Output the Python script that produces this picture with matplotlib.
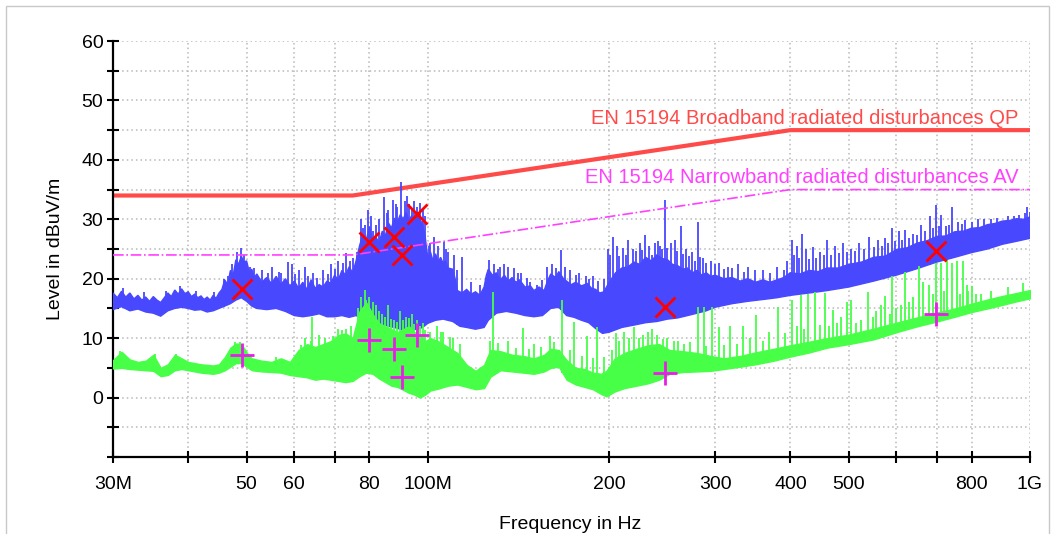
import matplotlib
matplotlib.use('Agg')
import matplotlib.pyplot as plt
from matplotlib.patches import Rectangle
import numpy as np

plt.rcParams['font.family'] = ['Liberation Sans', 'DejaVu Sans']

# ---- peak (blue) trace: upper and lower edges, MHz / dBuV/m ----
blue_hi_f = [30, 30.5, 31, 31.5, 32, 32.5, 33, 33.5, 34, 34.5, 35, 35.5, 36, 36.5, 37, 37.5, 38, 38.5, 39, 39.5,
             40, 40.5, 41, 41.5, 42, 42.5, 43, 43.5, 44, 44.5, 45, 45.5, 46, 46.5, 47, 47.5, 48, 48.5, 49, 49.5,
             50, 50.5, 51, 51.5, 52, 53, 54, 55, 56, 57, 58, 59, 60, 61, 62, 63, 64, 65, 66, 67,
             68, 69, 70, 71, 72, 73, 74, 75, 76, 77, 78, 79, 80, 81, 82, 83, 84, 85, 86, 87,
             88, 89, 90, 91, 92, 93, 94, 95, 96, 97, 98, 99, 100, 101, 102, 103, 104, 105, 106, 107,
             108, 110, 111, 112, 114, 116, 118, 120, 122, 124, 125, 126, 128, 130, 132, 134, 136, 138, 140, 142,
             145, 148, 150, 153, 156, 158, 160, 163, 165, 168, 170, 173, 176, 180, 184, 187, 190, 193, 196, 198,
             200, 205, 210, 215, 220, 225, 230, 235, 240, 245, 250, 255, 260, 265, 270, 275, 280, 285, 290, 295,
             300, 310, 320, 330, 340, 350, 360, 370, 380, 390, 400, 415, 430, 445, 460, 480, 500, 525, 550, 575,
             600, 625, 650, 675, 700, 725, 750, 775, 800, 825, 850, 875, 900, 925, 950, 975, 1000]
blue_hi = [17.6, 16.8, 17.9, 16.9, 17.6, 16.6, 17.2, 16.4, 16.9, 16.2, 17.0, 16.4, 16.0, 16.8, 17.6, 17.0, 18.1, 17.4, 18.3, 17.5,
           17.8, 17.0, 17.4, 16.8, 17.1, 16.5, 16.9, 16.4, 17.2, 16.7, 17.6, 18.2, 19.8, 19.0, 21.4, 20.6, 23.2, 22.4, 23.8, 22.8,
           23.0, 21.2, 21.6, 20.2, 20.8, 19.4, 20.2, 19.2, 20.4, 19.0, 20.0, 18.8, 19.6, 18.4, 19.4, 18.2, 19.8, 18.4, 19.0, 18.6,
           19.6, 19.2, 20.6, 19.8, 21.4, 20.6, 22.0, 21.0, 23.0, 25.5, 27.5, 26.5, 28.8, 26.2, 27.0, 26.0, 28.0, 27.2, 29.4, 28.5,
           30.2, 29.5, 30.8, 30.0, 31.2, 29.8, 30.6, 29.6, 31.0, 30.0, 29.2, 27.0, 23.5, 24.5, 23.0, 24.2, 22.8, 23.6, 22.6, 23.0,
           21.8, 21.6, 20.0, 18.0, 17.6, 18.2, 17.4, 17.8, 17.2, 18.6, 20.5, 21.6, 20.6, 21.0, 19.8, 20.6, 19.6, 20.2, 19.4, 19.8,
           18.6, 18.8, 18.0, 18.6, 18.0, 19.6, 20.8, 20.2, 21.2, 20.0, 19.6, 19.0, 19.4, 18.8, 19.2, 18.4, 18.2, 17.6, 17.8, 18.6,
           19.4, 21.0, 21.8, 22.0, 22.8, 22.4, 23.6, 23.0, 24.0, 23.4, 23.2, 22.4, 22.2, 21.6, 21.8, 21.0, 21.4, 20.6, 21.0, 20.4,
           20.6, 20.0, 20.2, 19.6, 20.0, 19.4, 19.8, 19.4, 19.8, 20.2, 21.0, 20.8, 21.4, 21.2, 21.8, 21.8, 22.4, 22.8, 23.6, 23.8,
           24.9, 25.2, 26.0, 26.4, 27.1, 27.2, 27.9, 28.0, 28.5, 28.6, 29.1, 29.3, 29.7, 29.8, 30.1, 30.0, 30.4]
blue_lo_f = [30, 31, 32, 33, 34, 35, 36, 37, 38, 39, 40, 41, 42, 43, 44, 45, 46, 47, 48, 49,
             50, 51, 52, 54, 56, 58, 60, 62, 64, 66, 68, 70, 72, 74, 76, 78, 80, 82, 84, 86,
             88, 90, 92, 94, 96, 98, 100, 103, 106, 110, 113, 116, 120, 124, 126, 130, 135, 140, 145, 150,
             155, 160, 165, 170, 175, 180, 185, 190, 195, 200, 210, 220, 230, 240, 250, 260, 270, 280, 290, 300,
             320, 340, 360, 380, 400, 430, 460, 500, 550, 600, 650, 700, 750, 800, 850, 900, 950, 1000]
blue_lo = [14.8, 15.3, 14.6, 14.9, 14.4, 14.2, 13.7, 14.6, 15.0, 15.2, 15.0, 14.7, 14.8, 14.4, 14.6, 15.0, 15.4, 15.8, 16.4, 16.8,
           16.2, 15.4, 15.0, 14.8, 15.0, 14.5, 13.8, 13.6, 13.8, 14.1, 13.6, 13.6, 13.8, 13.5, 13.8, 13.2, 12.8, 12.6, 12.4, 12.0,
           11.8, 11.5, 11.4, 11.4, 11.5, 11.8, 12.5, 13.0, 13.2, 12.8, 12.0, 11.8, 11.5, 11.8, 13.0, 14.2, 14.5, 14.2, 13.8, 13.6,
           13.8, 15.0, 15.2, 13.8, 13.5, 13.0, 12.6, 11.6, 10.8, 11.0, 11.8, 12.2, 12.6, 12.8, 13.2, 13.4, 13.8, 14.2, 14.6, 15.2,
           15.8, 16.2, 16.5, 16.8, 17.2, 17.6, 18.0, 18.6, 19.6, 20.6, 21.7, 22.8, 23.6, 24.4, 25.0, 25.8, 26.3, 26.8]
blue_spike_f = [31.2, 33.8, 36.8, 38.8, 41.2, 44.2, 45.8, 46.5, 47.2, 48.2, 49.0, 49.6, 50.6, 51.5, 53, 54.2, 55, 56.5, 57, 58.5,
                59.5, 60.2, 61, 62.5, 63.2, 64.5, 65.5, 67, 68.2, 69, 70.2, 71, 72.2, 73, 74.2, 75, 76.2, 77.5, 78, 78.5,
                79.5, 80.5, 81, 82, 83, 84.5, 85.5, 86, 87.5, 88.5, 89, 90.3, 91.5, 92.2, 93, 94, 95, 96, 97, 98,
                99, 100.5, 101, 102.5, 104, 106.5, 107, 108, 110.5, 112, 114, 118, 122, 126.5, 129, 131, 132, 134, 136, 139,
                141, 143, 146, 148, 152, 155, 158, 161, 163, 166.5, 169, 172, 176, 178, 183, 185, 188, 192, 196, 199,
                201, 203, 206, 208, 211, 213, 215, 219, 222, 225, 227, 229, 233, 236, 238, 241, 243, 245, 247.8, 250,
                253, 257, 259, 263.5, 265, 268, 271, 275, 278, 280.6, 283, 286, 290, 295, 300, 305, 310, 315, 320, 328,
                335, 340, 350, 360, 370, 380, 390, 395, 402, 406, 410, 414, 418, 425, 430, 436, 442, 448, 455, 460,
                468, 475, 482, 490, 497, 505, 512, 520, 530, 540, 550, 560, 567, 575, 582, 590, 597, 605, 612, 620,
                630, 640, 650, 660, 670, 681, 690, 698, 706, 712, 725, 735, 741, 760, 770, 780, 800, 820, 840, 860,
                880, 920, 940, 960, 980, 990, 1000]
blue_spike_top = [18.4, 17.8, 18.0, 18.8, 18.0, 17.8, 20.0, 20.5, 22.5, 24.5, 25.2, 24.0, 22.0, 21.8, 21.5, 21.0, 22.0, 21.2, 21.0, 22.8,
                  22.5, 20.8, 21.5, 22.0, 20.5, 21.0, 20.2, 21.5, 20.8, 22.5, 21.6, 23.0, 22.6, 24.3, 23.0, 23.5, 24.5, 30.0, 28.6, 29.0,
                  31.6, 30.5, 28.0, 29.0, 30.0, 33.8, 31.0, 31.5, 33.3, 32.6, 32.0, 36.2, 33.0, 34.0, 32.5, 31.5, 33.0, 32.0, 32.7, 31.6,
                  30.5, 25.5, 26.0, 27.0, 25.5, 26.2, 25.0, 24.5, 24.0, 21.5, 23.7, 19.5, 19.0, 23.2, 22.5, 21.6, 22.0, 22.4, 22.0, 21.8,
                  21.0, 21.0, 20.2, 19.5, 19.0, 19.8, 22.0, 22.5, 21.8, 24.8, 22.0, 21.5, 20.6, 21.0, 20.5, 20.0, 20.5, 19.6, 20.0, 25.0,
                  24.0, 27.1, 25.5, 23.8, 25.2, 24.0, 26.5, 25.0, 24.6, 26.0, 24.8, 27.4, 25.5, 24.0, 26.0, 26.4, 25.5, 25.0, 33.3, 25.2,
                  26.0, 26.5, 24.6, 28.8, 24.2, 25.0, 23.8, 24.5, 23.0, 29.6, 23.6, 23.5, 22.6, 23.0, 22.4, 22.6, 21.6, 22.0, 21.8, 22.5,
                  21.2, 22.0, 21.5, 21.5, 21.0, 22.0, 21.5, 23.0, 26.5, 24.0, 25.5, 23.5, 27.5, 25.0, 23.4, 25.4, 23.5, 24.5, 24.0, 26.5,
                  24.0, 25.5, 24.4, 26.0, 24.5, 25.0, 24.6, 26.0, 25.0, 27.0, 25.4, 26.5, 25.5, 26.8, 26.0, 28.5, 26.4, 28.0, 26.5, 28.2,
                  26.8, 27.5, 27.4, 29.0, 28.0, 30.5, 28.5, 32.4, 28.8, 30.7, 28.8, 29.0, 32.1, 29.5, 29.2, 29.8, 29.6, 30.0, 30.0, 30.0,
                  30.2, 30.5, 30.6, 30.8, 31.0, 32.0, 31.2]

# ---- average (green) trace ----
green_f = [30, 31, 32, 33, 34, 35, 36, 37, 38, 39, 40, 42, 44, 45, 46, 47, 48, 49, 50, 51,
           53, 55, 57, 59, 61, 63, 65, 67, 69, 71, 73, 75, 77, 79, 81, 83, 85, 87, 89, 91,
           93, 95, 97, 99, 101, 104, 108, 112, 116, 120, 124, 127, 132, 138, 144, 150, 156, 160, 165, 170,
           176, 182, 188, 194, 198, 204, 212, 222, 232, 242, 252, 265, 280, 295, 310, 330, 350, 375, 400, 430,
           460, 500, 550, 600, 650, 700, 750, 800, 850, 900, 950, 1000]
green_lo = [4.9, 5.0, 4.8, 4.7, 4.6, 4.5, 3.6, 3.8, 4.6, 4.8, 4.6, 4.2, 4.0, 4.2, 4.6, 5.2, 5.8, 5.8, 5.2, 4.6,
            4.4, 4.3, 4.2, 3.8, 3.6, 3.4, 3.0, 3.2, 3.0, 2.8, 2.6, 2.8, 3.6, 4.2, 4.0, 3.2, 2.6, 2.0, 1.8, 1.3,
            0.8, 0.5, 0.0, 0.5, 1.2, 1.5, 2.0, 2.2, 1.8, 1.4, 1.6, 3.5, 4.6, 4.4, 4.2, 4.0, 4.4, 5.0, 5.2, 3.0,
            2.2, 1.8, 1.4, 0.6, 0.2, 1.0, 1.6, 2.0, 2.4, 3.0, 4.0, 4.3, 4.4, 4.5, 4.8, 5.2, 5.6, 6.2, 6.9, 7.6,
            8.4, 9.0, 9.8, 11.0, 12.0, 12.8, 13.6, 14.4, 15.0, 15.6, 16.2, 16.7]
green_hi = [6.3, 7.7, 6.4, 6.0, 6.2, 7.2, 5.0, 5.6, 7.2, 6.6, 6.0, 5.6, 5.4, 5.6, 6.8, 8.4, 9.1, 9.0, 7.6, 6.6,
            6.2, 6.0, 6.6, 6.0, 8.0, 9.0, 8.5, 9.0, 9.5, 10.5, 10.8, 10.0, 14.5, 16.0, 14.0, 12.5, 12.0, 11.5, 11.0, 11.5,
            12.0, 11.0, 10.5, 9.5, 10.0, 9.5, 8.5, 7.5, 5.5, 4.5, 5.5, 8.0, 7.8, 7.2, 7.0, 6.6, 7.2, 8.2, 8.0, 6.3,
            5.0, 4.8, 4.2, 4.0, 4.5, 6.5, 7.5, 8.2, 8.8, 9.0, 8.0, 7.8, 7.5, 7.0, 6.6, 7.0, 7.6, 8.2, 8.8, 9.4,
            10.0, 10.6, 11.6, 12.6, 13.5, 14.3, 15.0, 15.8, 16.5, 17.1, 17.6, 18.1]
green_spike_f = [30.8, 35.2, 38.2, 47.8, 48.8, 56, 61.5, 62.5, 64, 64.2, 66, 67.5, 69.5, 71, 72, 73.2, 74.5, 76.5, 77.5, 78.5,
                 79, 80, 81, 82, 83, 84, 85, 86, 87, 88, 89, 90, 91, 92, 93, 94, 95, 96, 97, 98,
                 99, 101, 103.5, 105, 106, 109, 110, 113, 127, 128.1, 131, 136, 140, 143.8, 147, 150, 154, 159.6, 162, 167.3,
                 172, 175, 180, 184, 188, 191, 196, 202, 205, 208, 212, 216, 220, 224, 228, 232, 236, 240, 246, 250,
                 256, 260, 266, 272, 281, 288, 290, 296, 304, 310, 318, 326, 334, 343, 351, 360, 368, 382, 392, 402,
                 410, 417, 422, 428, 440, 448, 456, 463, 471, 478, 486, 496, 505, 515, 525, 538, 548, 556, 565, 575,
                 585, 591, 600, 610, 620, 630, 640, 653, 665, 680, 690, 698, 712, 720, 727, 741, 756, 765, 773, 785,
                 790, 800, 812, 830, 860, 920, 975]
green_spike_top = [7.8, 7.4, 7.3, 9.4, 9.4, 6.8, 8.8, 10.0, 9.6, 13.6, 10.5, 10.0, 10.4, 11.5, 11.4, 11.6, 12.0, 15.0, 17.0, 18.1,
                   16.5, 17.0, 16.0, 15.5, 14.5, 14.0, 13.5, 15.5, 13.2, 13.0, 12.8, 14.5, 13.0, 13.5, 13.4, 14.0, 12.4, 13.0, 12.0, 12.5,
                   11.4, 11.0, 12.0, 11.0, 11.0, 10.2, 10.0, 9.0, 9.5, 17.8, 9.2, 9.5, 8.4, 11.7, 8.2, 9.0, 8.5, 10.3, 9.4, 16.4,
                   8.0, 12.8, 7.0, 10.3, 6.6, 11.9, 6.8, 8.0, 10.8, 9.5, 11.0, 10.0, 11.9, 10.0, 10.5, 11.0, 11.5, 10.6, 9.9, 10.0,
                   9.5, 9.6, 9.0, 9.4, 15.3, 15.3, 8.6, 15.3, 11.9, 8.8, 12.0, 9.0, 12.0, 10.0, 13.9, 9.6, 11.0, 15.3, 10.8, 16.4,
                   12.0, 17.3, 11.5, 17.5, 17.8, 12.2, 17.6, 12.0, 14.7, 12.5, 13.6, 16.0, 16.4, 12.5, 13.0, 17.8, 13.5, 14.5, 15.5, 17.1,
                   14.0, 20.4, 15.0, 15.5, 21.2, 16.0, 17.0, 22.2, 19.5, 19.0, 17.5, 22.7, 22.7, 18.0, 23.2, 22.7, 23.0, 17.5, 23.0, 19.0,
                   18.0, 18.7, 17.5, 17.5, 18.0, 18.6, 19.2]

# ---- final measurement points ----
qp_f = [49.1, 80.0, 88.0, 90.7, 96.1, 247.8, 697.8]
qp_level = [18.2, 26.1, 27.1, 24.0, 30.9, 15.3, 24.7]
av_f = [49.1, 80.0, 88.0, 90.7, 96.1, 247.8, 697.8]
av_level = [7.2, 9.7, 8.1, 3.5, 10.5, 4.1, 14.1]

# ---- limit lines ----
qp_lim_f = [30, 75, 400, 1000]
qp_lim = [34, 34, 45, 45]
av_lim_f = [30, 75, 400, 1000]
av_lim = [24, 24, 35, 35]

xticks = [30, 40, 50, 60, 70, 80, 100, 200, 300, 400, 500, 600, 700, 800, 1000]
xlabels = ['30M', '', '50', '60', '', '80', '100M', '200', '300', '400', '500', '', '', '800', '1G']

BLUE = '#4848ff'
GREEN = '#48ff48'

fig = plt.figure(figsize=(10.57, 5.34), dpi=100)
fig.patch.set_facecolor('white')
ax = fig.add_axes([113 / 1057, 77 / 534, 917 / 1057, 416 / 534])

ax.set_xscale('log')
ax.set_xlim(30, 1000)
ax.set_ylim(-10, 60)

ax.plot(qp_lim_f, qp_lim, color='#ff4a4a', lw=3, zorder=2)

# peak trace: polygon from upper edge and reversed lower edge, plus the spikes
ax.fill(np.r_[blue_hi_f, blue_lo_f[::-1]], np.r_[blue_hi, blue_lo[::-1]],
        color=BLUE, lw=1.0, zorder=3)
bbase = np.interp(blue_spike_f, blue_lo_f, blue_lo)
ax.vlines(blue_spike_f, bbase, blue_spike_top, color=BLUE, lw=1.3, zorder=3)

# average trace
ax.fill_between(green_f, green_lo, green_hi, color=GREEN, lw=1.0, edgecolor=GREEN, zorder=4)
gbase = np.interp(green_spike_f, green_f, green_lo)
ax.vlines(green_spike_f, gbase, green_spike_top, color=GREEN, lw=1.3, zorder=4)

ax.plot(av_lim_f, av_lim, color='#ff40ff', lw=1.2, ls='-.', zorder=5)

ax.plot(qp_f, qp_level, ls='none', marker='x', ms=14, mew=2, color='#ff0000', zorder=6)
ax.plot(av_f, av_level, ls='none', marker='+', ms=17, mew=2, color='#e81ee8', zorder=6)

ax.text(956, 46.9, 'EN 15194 Broadband radiated disturbances QP', color='#ff4a4a',
        fontsize=14.5, ha='right', va='center', zorder=7)
ax.text(956, 37.0, 'EN 15194 Narrowband radiated disturbances AV', color='#ff40ff',
        fontsize=14.5, ha='right', va='center', zorder=7)

ax.set_xticks(xticks, xlabels)
ax.xaxis.set_minor_locator(matplotlib.ticker.NullLocator())
ax.set_yticks(np.arange(-10, 61, 5))
ax.set_yticklabels(['' if (v < 0 or v % 10) else str(v) for v in range(-10, 61, 5)])

ax.tick_params(axis='both', direction='inout', length=8, width=1.5, labelsize=14, color='black')
ax.tick_params(axis='x', pad=10)
ax.tick_params(axis='y', pad=3)

ax.grid(True, color='#b8b8b8', ls=(0, (1, 2)), lw=1.1)
ax.set_axisbelow(True)
for side in ['top', 'right']:
    ax.spines[side].set_visible(False)
for side in ['left', 'bottom']:
    ax.spines[side].set_linewidth(1.6)

fig.text(56 / 1057, (534 - 249) / 534, 'Level in dBuV/m', rotation=90, ha='center', va='center', fontsize=14)
fig.text(570 / 1057, 5 / 534, 'Frequency in Hz', ha='center', va='baseline', fontsize=14)

fig.add_artist(Rectangle((6 / 1057, -0.1), 1043 / 1057, (534 - 6) / 534 + 0.1, transform=fig.transFigure,
                         fill=False, ec='#c8c8c8', lw=1))

fig.savefig('out.png', dpi=100)
